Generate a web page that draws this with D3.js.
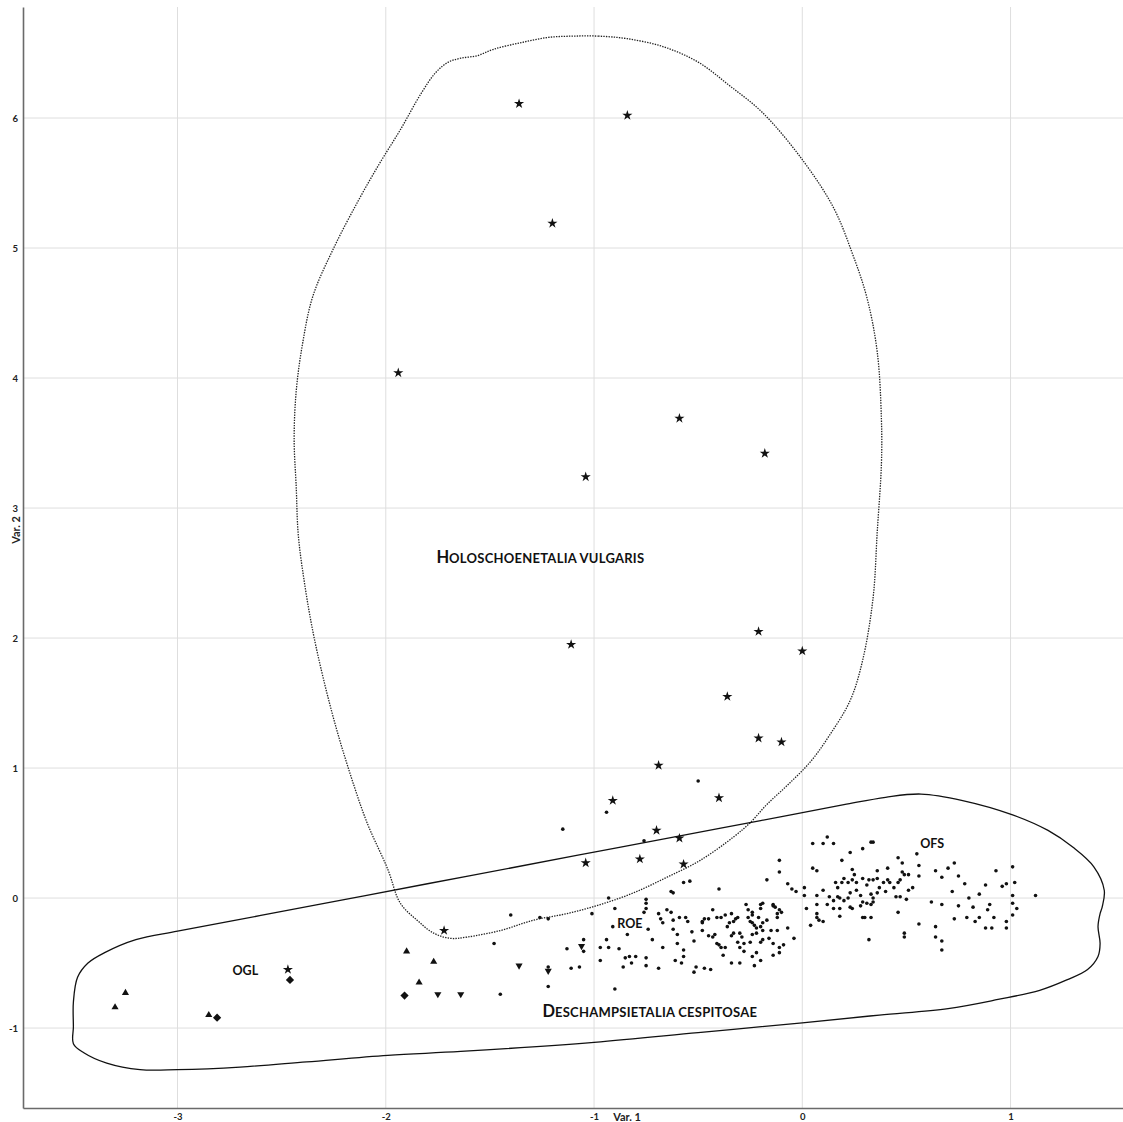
<!DOCTYPE html>
<html><head><meta charset="utf-8">
<script src="https://cdn.jsdelivr.net/npm/d3@7"></script>
<style>
html,body{margin:0;padding:0;background:#fff;}
svg{display:block;}
</style></head>
<body>
<svg id="chart" width="1123" height="1122"></svg>
<script>
// ---------- data ----------
const xTicks = [-3, -2, -1, 0, 1];
const yTicks = [-1, 0, 1, 2, 3, 4, 5, 6];
const xTitle = "Var. 1";
const yTitle = "Var. 2";

// Holoschoenetalia vulgaris relevés (stars)
const stars = [[-1.36,6.11],[-0.84,6.02],[-1.20,5.19],[-1.94,4.04],[-0.59,3.69],[-0.18,3.42],[-1.04,3.24],[-1.11,1.95],[-0.21,2.05],[0.00,1.90],[-0.36,1.55],[-0.21,1.23],[-0.10,1.20],[-0.69,1.02],[-0.91,0.75],[-0.40,0.77],[-0.70,0.52],[-0.59,0.46],[-1.04,0.27],[-0.78,0.30],[-0.57,0.26],[-1.72,-0.25],[-2.47,-0.55]];
const trianglesUp = [[-3.25,-0.73],[-3.30,-0.84],[-2.85,-0.90],[-1.90,-0.41],[-1.77,-0.49],[-1.84,-0.65]];
const trianglesDown = [[-1.75,-0.74],[-1.64,-0.74],[-1.36,-0.52],[-1.06,-0.37],[-1.22,-0.56]];
const diamonds = [[-2.81,-0.92],[-2.46,-0.63],[-1.91,-0.75]];
const dotsWest = [[-1.15,0.53],[-0.76,0.44],[-0.94,0.66],[-0.50,0.90],[-0.93,0.00],[-0.75,-0.01],[-0.75,-0.04],[-0.75,-0.08],[-0.76,-0.11],[-0.90,-0.08],[-1.40,-0.13],[-1.26,-0.15],[-1.22,-0.16],[-1.01,-0.12],[-1.48,-0.35],[-1.13,-0.39],[-1.05,-0.32],[-1.05,-0.41],[-0.97,-0.38],[-0.93,-0.38],[-0.94,-0.32],[-0.88,-0.39],[-0.84,-0.28],[-0.91,-0.22],[-0.97,-0.48],[-0.83,-0.45],[-0.85,-0.46],[-0.80,-0.45],[-0.86,-0.53],[-0.82,-0.50],[-0.75,-0.46],[-0.75,-0.52],[-0.69,-0.54],[-0.74,-0.24],[-0.72,-0.32],[-0.69,-0.12],[-0.68,-0.16],[-0.67,-0.19],[-0.65,-0.09],[-0.63,-0.11],[-0.62,-0.17],[-0.62,-0.24],[-0.60,-0.28],[-0.59,-0.15],[-0.56,-0.15],[-0.55,-0.18],[-0.67,-0.38],[-0.60,-0.35],[-0.57,-0.40],[-0.57,-0.45],[-0.61,-0.48],[-0.58,-0.50],[-0.52,-0.57],[-0.51,-0.53],[-0.53,-0.26],[-0.52,-0.33],[-0.57,0.12],[-0.54,0.13],[-0.63,0.05],[-0.62,0.04],[-1.45,-0.74],[-1.22,-0.68],[-0.90,-0.70],[-1.11,-0.54],[-1.07,-0.53],[-1.22,-0.53]];
const dotsCentre = [[-0.48,-0.25],[-0.48,-0.19],[-0.47,-0.16],[-0.45,-0.16],[-0.43,-0.09],[-0.43,-0.30],[-0.42,-0.28],[-0.41,-0.35],[-0.40,-0.36],[-0.39,-0.38],[-0.38,-0.44],[-0.37,-0.38],[-0.39,-0.15],[-0.37,-0.13],[-0.34,-0.12],[-0.35,-0.19],[-0.36,-0.22],[-0.33,-0.18],[-0.32,-0.16],[-0.31,-0.15],[-0.34,-0.29],[-0.33,-0.27],[-0.30,-0.27],[-0.29,-0.30],[-0.31,-0.34],[-0.30,-0.38],[-0.28,-0.41],[-0.34,-0.50],[-0.30,-0.50],[-0.27,-0.05],[-0.26,-0.09],[-0.24,-0.11],[-0.24,-0.13],[-0.20,-0.05],[-0.20,-0.08],[-0.25,-0.18],[-0.23,-0.21],[-0.22,-0.23],[-0.19,-0.19],[-0.17,-0.17],[-0.14,-0.05],[-0.13,-0.07],[-0.12,-0.12],[-0.12,-0.15],[-0.11,-0.09],[-0.24,-0.28],[-0.22,-0.27],[-0.19,-0.25],[-0.15,-0.25],[-0.12,-0.25],[-0.25,-0.34],[-0.20,-0.34],[-0.16,-0.31],[-0.09,-0.36],[-0.07,-0.23],[-0.04,-0.31],[-0.24,-0.45],[-0.22,-0.42],[-0.23,-0.52],[-0.14,-0.44],[-0.11,-0.38],[-0.40,0.07],[-0.11,0.29],[-0.11,0.20],[-0.17,0.14],[-0.07,0.11],[-0.05,0.07],[-0.03,0.05],[-0.47,-0.54],[-0.44,-0.55],[-0.19,-0.32],[-0.48,-0.18],[-0.45,-0.29],[-0.41,-0.15],[-0.26,-0.15],[-0.24,-0.19],[-0.20,-0.22],[-0.14,-0.35],[-0.11,-0.42],[-0.20,-0.48],[-0.10,-0.11],[-0.28,-0.35],[-0.21,-0.15],[-0.19,-0.04],[-0.14,-0.06]];
const dotsEast = [[0.01,0.08],[0.05,0.42],[0.10,0.42],[0.12,0.47],[0.15,0.42],[0.05,0.23],[0.07,0.21],[0.23,0.35],[0.29,0.38],[0.33,0.43],[0.34,0.43],[0.19,0.29],[0.24,0.22],[0.25,0.18],[0.20,0.15],[0.19,0.12],[0.17,0.08],[0.16,0.12],[0.22,0.12],[0.24,0.14],[0.26,0.12],[0.29,0.15],[0.31,0.10],[0.32,0.14],[0.34,0.14],[0.36,0.15],[0.39,0.12],[0.41,0.14],[0.42,0.12],[0.44,0.08],[0.46,0.12],[0.47,0.14],[0.36,0.21],[0.41,0.23],[0.46,0.31],[0.48,0.27],[0.48,0.20],[0.49,0.18],[0.51,0.18],[0.55,0.34],[0.56,0.25],[0.56,0.17],[0.53,0.08],[0.51,0.06],[0.47,0.01],[0.50,-0.01],[0.45,0.01],[0.40,0.05],[0.37,0.08],[0.36,0.04],[0.33,0.03],[0.34,0.00],[0.33,-0.05],[0.34,-0.03],[0.31,-0.04],[0.29,-0.03],[0.28,0.02],[0.26,0.06],[0.23,0.04],[0.22,0.00],[0.20,-0.02],[0.18,0.00],[0.17,0.01],[0.15,-0.02],[0.13,0.01],[0.12,-0.05],[0.15,-0.08],[0.18,-0.08],[0.18,-0.14],[0.23,-0.07],[0.24,-0.08],[0.28,-0.06],[0.29,-0.15],[0.33,-0.15],[0.32,-0.32],[0.46,-0.11],[0.49,-0.27],[0.49,-0.30],[0.56,-0.20],[0.64,-0.22],[0.64,-0.30],[0.67,-0.33],[0.67,-0.40],[0.62,-0.03],[0.67,-0.05],[0.64,0.21],[0.67,0.16],[0.70,0.23],[0.73,0.27],[0.75,0.17],[0.72,0.05],[0.75,-0.06],[0.78,0.11],[0.80,0.00],[0.82,-0.07],[0.85,0.03],[0.88,0.10],[0.90,-0.05],[0.89,-0.09],[0.92,-0.15],[0.93,0.21],[0.96,0.09],[0.98,0.11],[1.01,0.24],[1.02,0.12],[1.01,0.02],[1.01,-0.04],[1.03,-0.08],[1.01,-0.13],[0.98,-0.18],[0.98,-0.23],[0.88,-0.23],[0.91,-0.23],[0.79,-0.15],[0.83,-0.18],[0.85,-0.15],[0.73,-0.16],[1.12,0.02],[0.04,-0.21],[0.07,-0.15],[0.08,-0.17],[0.10,-0.18],[0.07,-0.12],[0.07,-0.05],[0.02,-0.08],[0.01,0.02],[0.07,0.02],[0.10,0.06],[0.30,-0.15]];

// hull outlines (data units)
const hullHoloschoenetalia = [[-1.10,6.63],[-0.98,6.63],[-0.84,6.61],[-0.67,6.55],[-0.50,6.43],[-0.35,6.25],[-0.19,6.04],[0.00,5.68],[0.15,5.31],[0.24,4.96],[0.31,4.62],[0.36,4.20],[0.38,3.68],[0.38,3.34],[0.36,2.82],[0.34,2.31],[0.29,1.83],[0.23,1.52],[0.13,1.25],[0.04,1.05],[-0.07,0.87],[-0.17,0.72],[-0.25,0.58],[-0.33,0.47],[-0.49,0.29],[-0.65,0.16],[-0.81,0.04],[-0.97,-0.05],[-1.13,-0.12],[-1.29,-0.17],[-1.45,-0.25],[-1.61,-0.30],[-1.69,-0.31],[-1.77,-0.27],[-1.85,-0.17],[-1.93,-0.04],[-1.99,0.22],[-2.09,0.58],[-2.17,0.95],[-2.24,1.32],[-2.30,1.69],[-2.35,2.05],[-2.39,2.42],[-2.42,2.79],[-2.43,3.16],[-2.44,3.53],[-2.43,3.90],[-2.40,4.26],[-2.35,4.63],[-2.25,5.00],[-2.13,5.37],[-2.03,5.65],[-1.93,5.91],[-1.83,6.19],[-1.76,6.35],[-1.70,6.43],[-1.64,6.46],[-1.56,6.48],[-1.48,6.53],[-1.35,6.58],[-1.22,6.62]];
const hullDeschampsietalia = [[-3.50,-0.99],[-3.50,-0.80],[-3.48,-0.61],[-3.43,-0.50],[-3.35,-0.42],[-3.20,-0.32],[-3.00,-0.255],[-2.60,-0.134],[-2.20,-0.012],[-1.80,0.110],[-1.40,0.231],[-1.00,0.353],[-0.60,0.475],[-0.20,0.596],[0.20,0.718],[0.40,0.775],[0.57,0.80],[0.77,0.75],[1.01,0.64],[1.18,0.52],[1.30,0.39],[1.40,0.24],[1.45,0.06],[1.44,-0.07],[1.43,-0.12],[1.42,-0.22],[1.43,-0.35],[1.42,-0.45],[1.37,-0.55],[1.27,-0.63],[1.14,-0.71],[0.94,-0.78],[0.70,-0.85],[0.37,-0.90],[0.00,-0.96],[-0.50,-1.035],[-1.00,-1.11],[-1.64,-1.18],[-1.99,-1.21],[-2.38,-1.26],[-2.70,-1.30],[-3.00,-1.32],[-3.18,-1.32],[-3.34,-1.27],[-3.45,-1.19],[-3.50,-1.12]];

const orderNames = [["H","OLOSCHOENETALIA VULGARIS"],["D","ESCHAMPSIETALIA CESPITOSAE"]];
const orderAnchors = [[-1.757,2.577],[-1.248,-0.915]];
const allianceNames = ["ROE","OFS","OGL"];
const allianceAnchors = [[-0.888,-0.23],[0.566,0.385],[-2.736,-0.592]];

// ---------- layout ----------
const plot = {left:23, right:1123, top:7, bottom:1108};
const svg = d3.select("#chart");
const x = d3.scaleLinear().domain([-3.742, 1.540]).range([plot.left, plot.right]);
const y = d3.scaleLinear().domain([-1.615, 6.854]).range([plot.bottom, plot.top]);
const FONT = "Lato, 'Open Sans', sans-serif";

// grid
const grid = svg.append("g");
grid.selectAll("line.v").data(xTicks).join("line")
  .attr("x1", d=>x(d)).attr("x2", d=>x(d)).attr("y1", plot.top).attr("y2", plot.bottom)
  .attr("stroke", "#dedede").attr("stroke-width", 1);
grid.selectAll("line.h").data(yTicks).join("line")
  .attr("y1", d=>y(d)).attr("y2", d=>y(d)).attr("x1", plot.left).attr("x2", plot.right)
  .attr("stroke", "#dedede").attr("stroke-width", 1);

// axes
const fmt = d => String(d);
const ax = svg.append("g").attr("transform", `translate(0,${plot.bottom})`)
  .call(d3.axisBottom(x).tickValues(xTicks).tickFormat(fmt).tickSize(0).tickPadding(5));
const ay = svg.append("g").attr("transform", `translate(${plot.left},0)`)
  .call(d3.axisLeft(y).tickValues(yTicks).tickFormat(fmt).tickSize(0).tickPadding(5));
[ax, ay].forEach(g => {
  g.select(".domain").attr("stroke", "#6a6a6a").attr("stroke-width", 1.6);
  g.selectAll("text").attr("font-family", FONT)
    .attr("font-weight", 700).attr("font-size", 9.5).attr("fill", "#222");
});

svg.append("text").attr("x", 627).attr("y", 1121)
  .attr("text-anchor", "middle").attr("font-family", FONT)
  .attr("font-weight", 700).attr("font-size", 11).attr("fill", "#222").text(xTitle);
svg.append("text").attr("transform", "translate(20,530) rotate(-90)")
  .attr("text-anchor", "middle").attr("font-family", FONT)
  .attr("font-weight", 700).attr("font-size", 11).attr("fill", "#222").text(yTitle);

// hulls
const hullLine = d3.line().x(d=>x(d[0])).y(d=>y(d[1])).curve(d3.curveCatmullRomClosed.alpha(0.5));
svg.append("path").attr("d", hullLine(hullHoloschoenetalia))
  .attr("fill", "none").attr("stroke", "#222").attr("stroke-width", 1.3).attr("stroke-dasharray", "1.4,1.2");
svg.append("path").attr("d", hullLine(hullDeschampsietalia))
  .attr("fill", "none").attr("stroke", "#111").attr("stroke-width", 1.3);

// points
const marks = svg.append("g").attr("fill", "#111");
marks.selectAll("circle").data(dotsWest.concat(dotsCentre, dotsEast)).join("circle")
  .attr("cx", d=>x(d[0])).attr("cy", d=>y(d[1])).attr("r", 1.8);
const sym = (type, size) => d3.symbol().type(type).size(size)();
marks.selectAll("path.star").data(stars).join("path").attr("class","star")
  .attr("d", sym(d3.symbolStar, 32))
  .attr("transform", d=>`translate(${x(d[0])},${y(d[1])})`);
marks.selectAll("path.tu").data(trianglesUp).join("path").attr("class","tu")
  .attr("d", sym(d3.symbolTriangle, 22))
  .attr("transform", d=>`translate(${x(d[0])},${y(d[1])})`);
marks.selectAll("path.td").data(trianglesDown).join("path").attr("class","td")
  .attr("d", sym(d3.symbolTriangle, 22))
  .attr("transform", d=>`translate(${x(d[0])},${y(d[1])}) rotate(180)`);
marks.selectAll("path.dm").data(diamonds).join("path").attr("class","dm")
  .attr("d", sym(d3.symbolSquare, 34))
  .attr("transform", d=>`translate(${x(d[0])},${y(d[1])}) rotate(45)`);

// labels
const lbl = svg.append("g").attr("font-family", FONT)
  .attr("font-weight", 700).attr("fill", "#111");
orderNames.forEach((n, i) => {
  const t = lbl.append("text").attr("x", x(orderAnchors[i][0])).attr("y", y(orderAnchors[i][1]));
  t.append("tspan").attr("font-size", 16.5).text(n[0]);
  t.append("tspan").attr("font-size", 13).attr("letter-spacing", 0.25).text(n[1]);
});
allianceNames.forEach((n, i) => {
  lbl.append("text").attr("x", x(allianceAnchors[i][0])).attr("y", y(allianceAnchors[i][1]))
    .attr("font-size", 12.5).text(n);
});
</script>
</body></html>
